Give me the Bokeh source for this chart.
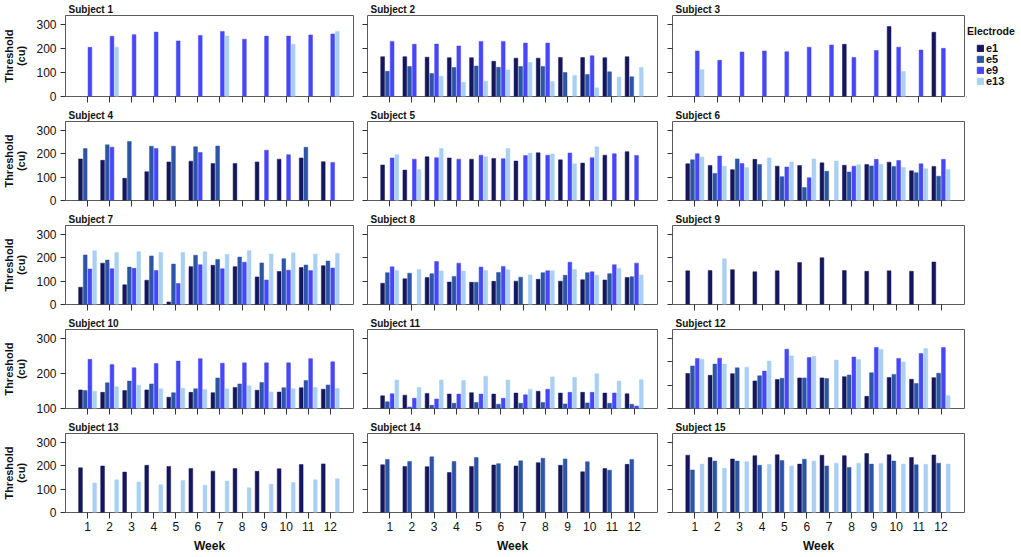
from bokeh.plotting import figure
from bokeh.models import (ColumnDataSource, Label, Legend, LegendItem, FixedTicker,
                          Range1d, Title)
from bokeh.layouts import row, column
from bokeh.transform import dodge
from bokeh.embed import file_html
from bokeh.resources import INLINE

WEEKS = list(range(1, 13))
ELECTRODES = ["e1", "e5", "e9", "e13"]
COLORS = ["#14165e", "#2d55a5", "#4646fa", "#a9d0f2"]
N = None
NONE12 = [N] * 12

# ---- data (threshold, cu), one list per subject and electrode ----
S1_E1 = NONE12
S1_E5 = NONE12
S1_E9 = [205, 251, 258, 269, 232, 255, 271, 239, 252, 252, 257, 261]
S1_E13 = [N, 206, N, N, N, N, 252, N, N, 218, N, 271]

S2_E1 = [166, 166, 164, 162, 162, 147, 160, 160, 163, 163, 162, 166]
S2_E5 = [105, 125, 96, 121, 127, 122, 125, 125, 100, 92, 103, 82]
S2_E9 = [230, 218, 219, 211, 230, 230, 223, 223, N, 170, N, N]
S2_E13 = [N, N, 84, 59, 64, 111, 142, 63, 88, 36, 81, 121]

S3_E1 = [N, N, N, N, N, N, N, 218, N, 292, N, 268]
S3_E5 = NONE12
S3_E9 = [190, 151, 186, 190, 187, 206, 215, 163, 192, 206, 194, 201]
S3_E13 = [112, N, N, N, N, N, N, N, N, 104, N, N]

S4_E1 = [178, 172, 95, 123, 165, 168, 158, 158, 165, 177, 182, 166]
S4_E5 = [222, 238, 252, 232, 232, 230, 233, N, N, N, 228, N]
S4_E9 = [N, 228, N, 222, N, 205, N, N, 215, 196, N, 163]
S4_E13 = NONE12

S5_E1 = [152, 130, 187, 182, 177, 180, 169, 204, 174, 160, 194, 209]
S5_E5 = NONE12
S5_E9 = [182, 177, 183, 177, 194, 179, 192, 194, 203, 183, 200, 193]
S5_E13 = [196, 132, 223, N, 187, 222, 203, 199, 157, 230, N, N]

S6_E1 = [157, 150, 132, 176, 147, 150, 161, 151, 154, 164, 127, 146]
S6_E5 = [174, 116, 178, 154, 102, 56, 125, 122, 148, 146, 119, 104]
S6_E9 = [200, 190, 158, N, 143, 97, N, 147, 176, 171, 157, 176]
S6_E13 = [186, 147, 141, 182, 165, 178, 169, 153, 155, 141, 136, 133]

S7_E1 = [74, 177, 84, 104, 11, 162, 168, 162, 118, 141, 158, 166]
S7_E5 = [212, 190, 160, 208, 173, 211, 193, 203, 178, 196, 169, 186]
S7_E9 = [152, 153, 155, 145, 90, 170, 153, 181, 105, 147, 145, 156]
S7_E13 = [230, 223, 226, 223, 223, 226, 214, 230, 216, 221, 216, 219]

S8_E1 = [91, 110, 115, 96, 95, 99, 100, 108, 100, 106, 105, 115]
S8_E5 = [136, 134, 132, 120, 95, 137, 117, 136, 125, 136, 132, 119]
S8_E9 = [161, N, 184, 177, 160, 163, N, 144, 181, 140, 170, 177]
S8_E13 = [146, 150, 143, 143, 146, 149, 126, 144, 150, 125, 154, 126]

S9_E1 = [144, 145, 149, 140, 144, 180, 200, 145, 142, 144, 142, 182]
S9_E5 = NONE12
S9_E9 = NONE12
S9_E13 = [N, 196, N, N, N, N, N, N, N, N, N, N]

S10_E1 = [153, 146, 151, 153, 132, 146, 145, 160, 152, 147, 159, 155]
S10_E5 = [151, 173, 178, 170, 145, 156, 187, 170, 174, 159, 180, 167]
S10_E9 = [240, 225, 216, 228, 235, 242, 229, 230, 230, 230, 242, 233]
S10_E13 = [149, 162, 166, 156, 158, 154, 156, 165, 147, 156, 160, 157]

S11_E1 = [136, 138, 143, 141, 145, 141, 144, 149, 144, 146, 144, 142]
S11_E5 = [119, 104, 109, 115, 117, 112, 115, 117, 113, 116, 115, 112]
S11_E9 = [142, 129, 127, 141, 141, 129, 139, 155, 146, 146, 144, 107]
S11_E13 = [181, 160, 181, 180, 192, 181, 155, 190, 189, 199, 178, 182]

S12_E1 = [150, 142, 149, 118, 124, 131, 131, 136, 52, 133, 125, 132]
S12_E5 = [182, 190, 174, 140, 129, 131, 128, 143, 153, 146, 107, 151]
S12_E9 = [214, 215, N, 160, 254, 218, N, 220, 261, 214, 235, 261]
S12_E13 = [211, 190, 177, 203, 225, 224, 207, 210, 253, 199, 257, 55]

S13_E1 = [191, 199, 173, 202, 197, 188, 177, 188, 176, 187, 205, 208]
S13_E5 = NONE12
S13_E9 = NONE12
S13_E13 = [126, 140, 130, 119, 137, 117, 135, 106, 121, 128, 140, 144]

S14_E1 = [204, 197, 196, 171, 197, 203, 199, 213, 202, 174, 188, 206]
S14_E5 = [227, 218, 238, 218, 235, 209, 221, 232, 229, 217, 181, 227]
S14_E9 = NONE12
S14_E13 = NONE12

S15_E1 = [245, 235, 229, 243, 247, 207, 245, 243, 252, 247, 235, 246]
S15_E5 = [182, 220, 220, 202, 222, 228, 199, 193, 207, 220, 204, 211]
S15_E9 = NONE12
S15_E13 = [207, 189, 217, 206, 199, 220, 211, 211, 210, 207, 206, 207]

SUBJECTS = [
    (S1_E1, S1_E5, S1_E9, S1_E13), (S2_E1, S2_E5, S2_E9, S2_E13), (S3_E1, S3_E5, S3_E9, S3_E13),
    (S4_E1, S4_E5, S4_E9, S4_E13), (S5_E1, S5_E5, S5_E9, S5_E13), (S6_E1, S6_E5, S6_E9, S6_E13),
    (S7_E1, S7_E5, S7_E9, S7_E13), (S8_E1, S8_E5, S8_E9, S8_E13), (S9_E1, S9_E5, S9_E9, S9_E13),
    (S10_E1, S10_E5, S10_E9, S10_E13), (S11_E1, S11_E5, S11_E9, S11_E13), (S12_E1, S12_E5, S12_E9, S12_E13),
    (S13_E1, S13_E5, S13_E9, S13_E13), (S14_E1, S14_E5, S14_E9, S14_E13), (S15_E1, S15_E5, S15_E9, S15_E13),
]
RAISED_BASE = {10, 11}  # subjects whose axis starts at 100

# ---- layout / style ----
FONT = "Liberation Sans"
OFFSETS = [-0.32, -0.107, 0.107, 0.32]
BAR_W = 0.17
COL_LEFT = [63, 12, 12]
COL_RIGHT = [2, 3, 2]
COL_FRAME = [290, 290, 292]
ROW_TOP = [15, 12, 12, 12, 12]
ROW_BOTTOM = [11, 11, 11, 11, 44]
FRAME_H = 81
LEGEND_W = 54
KEY_PITCH = 11


def src_for(vals):
    xs = [w for w, v in zip(WEEKS, vals) if v is not None]
    ys = [v for v in vals if v is not None]
    return ColumnDataSource(dict(week=xs, top=ys))


def make_panel(i):
    r, c = divmod(i, 3)
    subj = i + 1
    lo, hi = (100, 325) if subj in RAISED_BASE else (0, 338)
    w = COL_LEFT[c] + COL_FRAME[c] + COL_RIGHT[c]
    h = ROW_TOP[r] + FRAME_H + ROW_BOTTOM[r]
    p = figure(width=w, height=h, x_range=Range1d(0, 13.05), y_range=Range1d(lo, hi),
               output_backend="svg", toolbar_location=None, title=None,
               min_border_left=COL_LEFT[c], min_border_right=COL_RIGHT[c],
               min_border_top=ROW_TOP[r], min_border_bottom=ROW_BOTTOM[r])
    p.grid.visible = False
    p.outline_line_color = "#5a5a5a"
    p.outline_line_width = 1
    p.background_fill_color = "white"
    p.border_fill_color = "white"

    for k, vals in enumerate(SUBJECTS[i]):
        p.vbar(x=dodge("week", OFFSETS[k]), top="top", bottom=lo, width=BAR_W,
               source=src_for(vals), fill_color=COLORS[k], line_color=COLORS[k],
               line_width=0.5)

    # x axis
    xa = p.xaxis[0]
    xa.ticker = FixedTicker(ticks=WEEKS)
    xa.axis_line_color = None
    xa.major_tick_in = 0
    xa.major_tick_out = 6
    xa.major_tick_line_color = "#333333"
    xa.minor_tick_line_color = None
    if r == 4:
        xa.major_label_text_font = FONT
        xa.major_label_text_font_size = "12px"
        xa.major_label_text_color = "#111111"
        xa.major_label_standoff = 3
        xa.axis_label = "Week"
        xa.axis_label_text_font = FONT
        xa.axis_label_text_font_size = "12px"
        xa.axis_label_text_font_style = "bold"
        xa.axis_label_text_color = "#111111"
        xa.axis_label_standoff = 5
    else:
        xa.major_label_text_font_size = "1px"
        xa.major_label_text_alpha = 0
        xa.major_label_standoff = 0

    # y axis
    ya = p.yaxis[0]
    ya.ticker = FixedTicker(ticks=[0, 100, 200, 300] if lo == 0 else [100, 200, 300])
    ya.axis_line_color = None
    ya.major_tick_in = 0
    ya.major_tick_out = 5
    ya.major_tick_line_color = "#333333"
    ya.minor_tick_line_color = None
    if c == 0:
        ya.major_label_text_font = FONT
        ya.major_label_text_font_size = "12px"
        ya.major_label_text_color = "#111111"
        ya.major_label_standoff = 4
        ya.axis_label = "Threshold\n(cu)"
        ya.axis_label_text_font = FONT
        ya.axis_label_text_font_size = "11px"
        ya.axis_label_text_font_style = "bold"
        ya.axis_label_text_color = "#111111"
        ya.axis_label_text_line_height = 1.0
        ya.axis_label_standoff = 6
    else:
        ya.major_label_text_font_size = "1px"
        ya.major_label_text_alpha = 0
        ya.major_label_standoff = 0

    p.add_layout(Title(text="Subject %d" % subj, align="left", offset=3, standoff=1,
                       text_font=FONT, text_font_size="10px", text_font_style="bold",
                       text_color="#111111"), "above")
    return p


def make_legend_panel():
    # key panel: its renderers carry a subject's series, drawn outside this panel's visible range
    h = ROW_TOP[0] + FRAME_H + ROW_BOTTOM[0]
    p = figure(width=LEGEND_W, height=h, x_range=Range1d(100, 101), y_range=Range1d(1000, 1001),
               output_backend="svg", toolbar_location=None, title=None,
               x_axis_type=None, y_axis_type=None,
               min_border_left=0, min_border_right=0, min_border_top=0, min_border_bottom=0)
    p.grid.visible = False
    p.outline_line_color = None
    p.add_layout(Label(x=0.5, y=h - 41, x_units="screen", y_units="screen",
                       text="Electrode", text_font=FONT, text_font_size="10.5px",
                       text_font_style="bold", text_color="#111111",
                       text_baseline="alphabetic"))
    for k, e in enumerate(ELECTRODES):
        rend = p.vbar(x="week", top="top", width=0.1, source=src_for(SUBJECTS[6][k]),
                      fill_color=COLORS[k], line_color=COLORS[k])
        leg = Legend(items=[LegendItem(label=e, renderers=[rend])],
                     location=(10, 42.5 - KEY_PITCH * k), orientation="vertical",
                     label_text_font=FONT, label_text_font_size="11px",
                     label_text_font_style="bold", label_text_color="#111111",
                     glyph_width=8, glyph_height=8, label_height=9, label_standoff=2,
                     spacing=0, padding=0, margin=0,
                     border_line_color=None, background_fill_alpha=0)
        p.add_layout(leg)
    return p


rows = []
for r in range(5):
    figs = [make_panel(r * 3 + c) for c in range(3)]
    if r == 0:
        figs.append(make_legend_panel())
    rows.append(row(*figs))
layout = column(*rows)

open("out.html", "w").write(file_html(layout, INLINE))
